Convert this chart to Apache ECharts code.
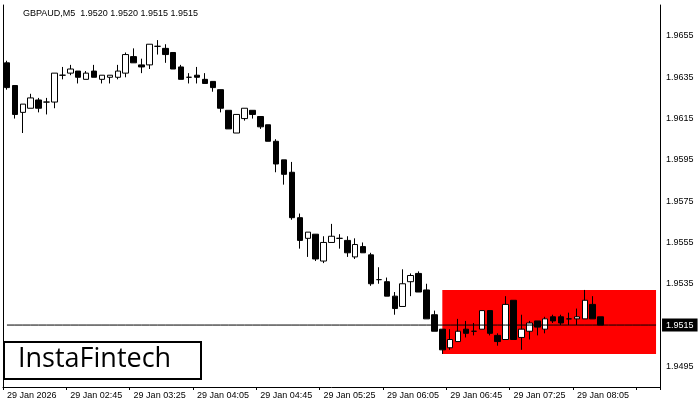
<!DOCTYPE html>
<html>
<head>
<meta charset="utf-8">
<script src="https://cdn.jsdelivr.net/npm/echarts@6/dist/echarts.min.js"></script>
<style>html,body{margin:0;padding:0;background:#fff}#main{width:700px;height:400px}</style>
</head>
<body>
<div id="main"></div>
<script>
// times from 02:05 to 08:20, M5
const times = ["02:05","02:10","02:15","02:20","02:25","02:30","02:35","02:40","02:45","02:50","02:55","03:00","03:05","03:10","03:15","03:20","03:25","03:30","03:35","03:40","03:45","03:50","03:55","04:00","04:05","04:10","04:15","04:20","04:25","04:30","04:35","04:40","04:45","04:50","04:55","05:00","05:05","05:10","05:15","05:20","05:25","05:30","05:35","05:40","05:45","05:50","05:55","06:00","06:05","06:10","06:15","06:20","06:25","06:30","06:35","06:40","06:45","06:50","06:55","07:00","07:05","07:10","07:15","07:20","07:25","07:30","07:35","07:40","07:45","07:50","07:55","08:00","08:05","08:10","08:15","08:20"];
const padSlots = ["p1","p2","p3","p4","p5","p6","p7"];

// [open, close, low, high]
const candles = [
[1.9642,1.9630,1.9629,1.9643],[1.9631,1.9617,1.9615,1.9631],[1.9618,1.9622,1.9608,1.9622],[1.9620,1.9625,1.9620,1.9627],
[1.9624,1.9620,1.9618,1.9625],[1.9623,1.9623,1.9617,1.9625],[1.9623,1.9637,1.9620,1.9637],[1.9636,1.9636,1.9634,1.9640],
[1.9637,1.9639,1.9636,1.9641],[1.9638,1.9635,1.9632,1.9638],[1.9634,1.9637,1.9634,1.9638],[1.9638,1.9635,1.9635,1.9641],
[1.9634,1.9636,1.9632,1.9636],[1.9635,1.9636,1.9632,1.9636],[1.9635,1.9638,1.9634,1.9641],[1.9637,1.9646,1.9635,1.9647],
[1.9645,1.9642,1.9642,1.9649],[1.9641,1.9640,1.9637,1.9644],[1.9641,1.9651,1.9639,1.9651],[1.9650,1.9650,1.9646,1.9653],
[1.9649,1.9646,1.9642,1.9651],[1.9647,1.9639,1.9639,1.9647],[1.9640,1.9634,1.9634,1.9641],[1.9635,1.9635,1.9632,1.9637],
[1.9636,1.9635,1.9632,1.9640],[1.9634,1.9632,1.9632,1.9637],[1.9633,1.9630,1.9628,1.9633],[1.9629,1.9620,1.9618,1.9629],
[1.9619,1.9610,1.9610,1.9619],[1.9608,1.9617,1.9608,1.9617],[1.9615,1.9620,1.9614,1.9620],[1.9619,1.9617,1.9615,1.9619],
[1.9616,1.9611,1.9610,1.9616],[1.9612,1.9604,1.9604,1.9612],[1.9604,1.9593,1.9589,1.9605],[1.9595,1.9588,1.9583,1.9595],
[1.9589,1.9567,1.9566,1.9594],[1.9567,1.9556,1.9552,1.9569],[1.9557,1.9560,1.9548,1.9560],[1.9559,1.9547,1.9546,1.9559],
[1.9546,1.9555,1.9545,1.9558],[1.9555,1.9558,1.9555,1.9564],[1.9557,1.9557,1.9552,1.9559],[1.9556,1.9550,1.9548,1.9558],
[1.9548,1.9554,1.9547,1.9557],[1.9553,1.9550,1.9550,1.9555],[1.9549,1.9535,1.9534,1.9550],[1.9537,1.9537,1.9535,1.9543],
[1.9536,1.9529,1.9529,1.9538],[1.9529,1.9523,1.9520,1.9531],[1.9524,1.9535,1.9524,1.9542],[1.9536,1.9539,1.9529,1.9540],
[1.9540,1.9531,1.9531,1.9541],[1.9532,1.9518,1.9518,1.9535],[1.9520,1.9512,1.9512,1.9522],[1.9513,1.9503,1.9501,1.9513],
[1.9504,1.9508,1.9503,1.9513],[1.9507,1.9512,1.9507,1.9518],[1.9513,1.9511,1.9509,1.9517],[1.9512,1.9512,1.9510,1.9516],
[1.9513,1.9522,1.9513,1.9522],[1.9522,1.9511,1.9510,1.9522],[1.9510,1.9507,1.9505,1.9511],[1.9508,1.9525,1.9508,1.9529],
[1.9527,1.9508,1.9508,1.9527],[1.9509,1.9513,1.9503,1.9520],[1.9512,1.9516,1.9508,1.9517],[1.9517,1.9514,1.9510,1.9517],
[1.9513,1.9518,1.9511,1.9519],[1.9519,1.9517,1.9516,1.9520],[1.9519,1.9516,1.9515,1.9520],[1.9518,1.9518,1.9515,1.9521],
[1.9518,1.9519,1.9515,1.9523],[1.9518,1.9527,1.9518,1.9532],[1.9525,1.9518,1.9518,1.9529],[1.9519,1.9515,1.9515,1.9519]
];

const yTicks = [1.9495,1.9515,1.9535,1.9555,1.9575,1.9595,1.9615,1.9635,1.9655];
const lastPrice = 1.9515;
const zoneTop = 1.9532;
const zoneBottom = 1.9501;
const zoneStartIndex = 55;

const categories = times.concat(padSlots);
const seriesData = candles.concat(padSlots.map(() => '-'));
const priceLine = categories.map(() => lastPrice);

const chart = echarts.init(document.getElementById('main'));
chart.setOption({
  animation: false,
  textStyle: { fontFamily: 'Liberation Sans, Arial, sans-serif' },
  title: {
    text: 'GBPAUD,M5  1.9520 1.9520 1.9515 1.9515',
    left: 18, top: 4,
    textStyle: { fontSize: 9, fontWeight: 'normal', color: '#000' }
  },
  grid: { left: 3, right: 40, top: 5, bottom: 11 },
  xAxis: {
    type: 'category',
    data: categories,
    boundaryGap: true,
    axisLine: { lineStyle: { color: '#000' } },
    axisTick: { show: true, interval: 7, length: 3, lineStyle: { color: '#000' } },
    axisLabel: {
      interval: 7, fontSize: 9, color: '#000', align: 'left', margin: 4,
      formatter: (v, i) => i === 0 ? '29 Jan 2026' : (v.startsWith('p') ? '' : '29 Jan ' + v)
    },
    splitLine: { show: false }
  },
  yAxis: [{
    type: 'value',
    position: 'right',
    min: 1.9485, max: 1.9670, interval: 0.0005,
    axisLine: { show: true, lineStyle: { color: '#000' } },
    axisTick: { show: false },
    axisLabel: {
      fontSize: 9, color: '#000', margin: 6,
      formatter: v => yTicks.some(t => Math.abs(t - v) < 1e-6) ? v.toFixed(4) : ''
    },
    splitLine: { show: false }
  }, {
    type: 'value',
    position: 'left',
    min: 1.9485, max: 1.9670,
    axisLine: { show: true, lineStyle: { color: '#000' } },
    axisTick: { show: false }, axisLabel: { show: false }, splitLine: { show: false }
  }],
  series: [{
    type: 'candlestick',
    data: seriesData,
    barWidth: 6,
    itemStyle: { color: '#fff', color0: '#000', borderColor: '#000', borderColor0: '#000', borderWidth: 1 },
    markArea: {
      silent: true,
      itemStyle: { color: '#ff0000', opacity: 1 },
      data: [[{ xAxis: categories[zoneStartIndex], yAxis: zoneTop }, { xAxis: categories[categories.length - 1], yAxis: zoneBottom }]]
    },
    z: 3
  }, {
    type: 'line',
    data: priceLine,
    symbol: 'none',
    lineStyle: { color: '#000', width: 1 },
    z: 4,
    endLabel: {
      show: true, formatter: lastPrice.toFixed(4), color: '#fff', backgroundColor: '#000',
      fontSize: 9, padding: [2, 4], distance: 6
    }
  }],
  graphic: [{
    type: 'group', left: 3, top: 341,
    children: [
      { type: 'rect', shape: { x: 0, y: 0, width: 197, height: 37 }, style: { fill: '#fff', stroke: '#000', lineWidth: 2 } },
      { type: 'text', x: 14, y: 4, style: { text: 'InstaFintech', font: '27px "Open Sans", sans-serif', fill: '#000' } }
    ]
  }]
});
</script>
</body>
</html>
